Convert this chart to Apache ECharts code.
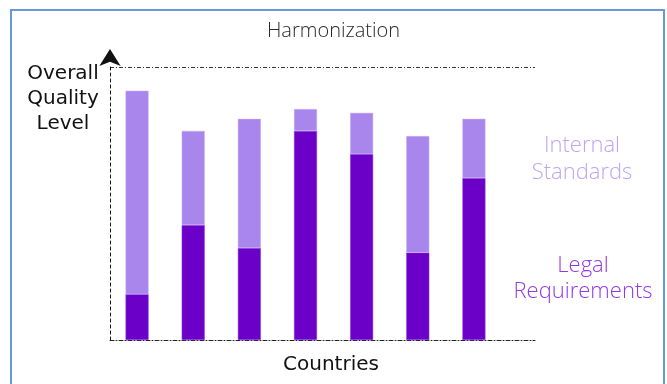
<!DOCTYPE html>
<html>
<head>
<meta charset="utf-8">
<script src="https://cdn.jsdelivr.net/npm/echarts@6/dist/echarts.min.js"></script>
<style>
  html, body { margin: 0; padding: 0; background: #ffffff; }
  #chart { width: 667px; height: 384px; }
</style>
</head>
<body>
<div id="chart"></div>
<script>
// Countries (unlabelled on the axis) and the two stacked components per country
const countries = ['C1', 'C2', 'C3', 'C4', 'C5', 'C6', 'C7'];
const legalRequirements = [16.8, 42.1, 33.7, 76.6, 68.1, 32.0, 59.3];
const internalStandards = [74.5, 34.5, 47.3, 8.0, 15.1, 42.7, 21.7];

const chartTitle = 'Harmonization';
const yTitle = 'Overall\nQuality\nLevel';
const xTitle = 'Countries';
const internalLabel = 'Internal\nStandards';
const legalLabel = 'Legal\nRequirements';

const DARK = '#6b00c9';
const LIGHT = '#a886ec';
const DASH_DOT = [4, 2, 1, 2];

const chart = echarts.init(document.getElementById('chart'), null, { renderer: 'canvas' });

chart.setOption({
  backgroundColor: '#ffffff',
  animation: false,
  title: {
    text: chartTitle,
    left: 'center',
    top: 16,
    textStyle: { fontFamily: 'Open Sans', fontWeight: 300, fontSize: 20, color: '#2a2a2a' }
  },
  grid: [
    // bars
    { left: 109, right: 165, top: 67, bottom: 44 },
    // the wider dotted frame with the arrowed vertical axis
    { left: 110, right: 132, top: 67, bottom: 44 }
  ],
  xAxis: [
    {
      type: 'category',
      gridIndex: 0,
      data: countries,
      boundaryGap: true,
      axisLine: { show: false },
      axisTick: { show: false },
      axisLabel: { show: false }
    },
    {
      type: 'value',
      gridIndex: 1,
      min: 0,
      max: 1,
      axisLine: { show: true, lineStyle: { color: '#222', width: 1, type: DASH_DOT } },
      axisTick: { show: false },
      axisLabel: { show: false },
      splitLine: { show: false }
    }
  ],
  yAxis: [
    {
      type: 'value',
      gridIndex: 0,
      min: 0,
      max: 100,
      axisLine: { show: false },
      axisTick: { show: false },
      axisLabel: { show: false },
      splitLine: { show: false }
    },
    {
      type: 'value',
      gridIndex: 1,
      min: 0,
      max: 100,
      interval: 100,
      axisLine: {
        show: true,
        symbol: ['none', 'arrow'],
        symbolSize: [16, 17],
        symbolOffset: [0, 18],
        lineStyle: { color: '#111', width: 1, type: [3, 3] }
      },
      axisTick: { show: false },
      axisLabel: { show: false },
      splitLine: { show: true, lineStyle: { color: '#333', width: 1, type: DASH_DOT } }
    }
  ],
  series: [
    {
      name: 'Legal Requirements',
      type: 'bar',
      xAxisIndex: 0,
      yAxisIndex: 0,
      stack: 'quality',
      barWidth: 23,
      data: legalRequirements,
      itemStyle: { color: DARK, borderColor: '#8a3ee0', borderWidth: 0.5 }
    },
    {
      name: 'Internal Standards',
      type: 'bar',
      xAxisIndex: 0,
      yAxisIndex: 0,
      stack: 'quality',
      barWidth: 23,
      data: internalStandards,
      itemStyle: { color: LIGHT, borderColor: '#c4b0f4', borderWidth: 0.5 }
    }
  ],
  graphic: [
    {
      type: 'rect',
      shape: { x: 11, y: 10, width: 653, height: 420 },
      style: { fill: 'none', stroke: '#6a98d6', lineWidth: 2 },
      silent: true
    },
    {
      type: 'text',
      x: 63, y: 99,
      style: {
        text: yTitle,
        fontFamily: 'DejaVu Sans', fontSize: 20, lineHeight: 25,
        fill: '#111', align: 'center', verticalAlign: 'middle'
      }
    },
    {
      type: 'text',
      x: 331, y: 365,
      style: {
        text: xTitle,
        fontFamily: 'DejaVu Sans', fontSize: 20,
        fill: '#111', align: 'center', verticalAlign: 'middle'
      }
    },
    {
      type: 'text',
      x: 582, y: 159,
      style: {
        text: internalLabel,
        fontFamily: 'Open Sans', fontWeight: 300, fontSize: 22, lineHeight: 27,
        fill: '#bca6f4', align: 'center', verticalAlign: 'middle'
      }
    },
    {
      type: 'text',
      x: 583, y: 279,
      style: {
        text: legalLabel,
        fontFamily: 'Open Sans', fontWeight: 300, fontSize: 22, lineHeight: 26,
        fill: '#9338e6', align: 'center', verticalAlign: 'middle'
      }
    }
  ]
});
</script>
</body>
</html>
